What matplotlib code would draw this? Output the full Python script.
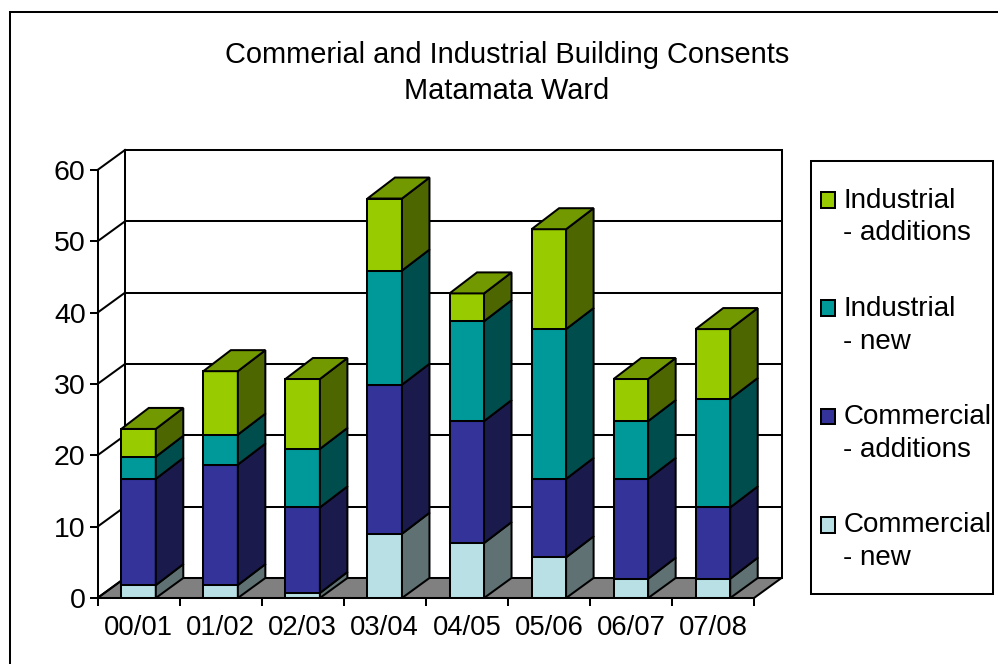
import numpy as np
import matplotlib
matplotlib.use("Agg")
import matplotlib.pyplot as plt
from matplotlib.lines import Line2D
from matplotlib.patches import Patch, Polygon, Rectangle

plt.rcParams["font.family"] = ["Liberation Sans", "DejaVu Sans"]

years = ["00/01", "01/02", "02/03", "03/04", "04/05", "05/06", "06/07", "07/08"]
commercial_new = [1.8, 1.8, 0.7, 9.0, 7.7, 5.7, 2.7, 2.7]
commercial_additions = [14.9, 16.9, 12.0, 20.9, 17.1, 11.0, 14.0, 10.0]
industrial_new = [3.1, 4.2, 8.2, 16.0, 14.0, 21.0, 8.1, 15.2]
industrial_additions = [3.9, 8.9, 9.8, 10.1, 3.9, 14.0, 5.9, 9.8]

series = [commercial_new, commercial_additions, industrial_new, industrial_additions]
labels = ["Commercial\n- new", "Commercial\n- additions", "Industrial\n- new", "Industrial\n- additions"]
front_colors = ["#B9E1E5", "#333399", "#009999", "#99CC00"]
side_colors = ["#5F7173", "#1A1A4D", "#004D4D", "#4D6600"]
top_colors = ["#8AA9AC", "#26267A", "#007373", "#739900"]

W, H = 998, 664
FS = 19.7
LW = 1.45
INK = "#000000"

fig = plt.figure(figsize=(W / 100, H / 100), dpi=100, facecolor="white")
ax = fig.add_axes([97.5 / W, (H - 598) / H, 656.5 / W, 428 / H], facecolor="none")
ax.set_xlim(0, 8)
ax.set_ylim(0, 60)

# Oblique depth of the chart box, in data units
per_x = 656.5 / 8
per_y = 428 / 60
dx = 27.5 / per_x
dy = 20 / per_y
bar_w = 34.5 / per_x
bar_rise = 1 / per_y


def back(v):
    """Height of a column edge where it meets the rear plane."""
    return v + dy + (bar_rise if v > 0 else 0)


# Floor, walls and gridlines of the box
ax.add_patch(Polygon([(0, 0), (8, 0), (8 + dx, dy), (dx, dy)], closed=True, fc="#808080",
                     ec=INK, lw=LW, clip_on=False, zorder=1))
for v in range(0, 70, 10):
    ax.plot([dx, 8 + dx], [v + dy, v + dy], color=INK, lw=LW, clip_on=False, zorder=1, solid_capstyle="projecting")
    ax.plot([0, dx], [v, v + dy], color=INK, lw=LW, clip_on=False, zorder=1)
ax.plot([dx, dx], [dy, 60 + dy], color=INK, lw=LW, clip_on=False, zorder=1)
ax.plot([8 + dx, 8 + dx], [dy, 60 + dy], color=INK, lw=LW, clip_on=False, zorder=1)

# Stacked columns: front faces as bars, then side and top faces from the same values
positions = np.arange(len(years)) + 0.5
bottoms = np.zeros(len(years))
for k, values in enumerate(series):
    values = np.array(values, dtype=float)
    ax.bar(positions, values, width=bar_w, bottom=bottoms, color=front_colors[k],
           edgecolor=INK, linewidth=LW, zorder=3)
    tops = bottoms + values
    for p, b, t in zip(positions, bottoms, tops):
        r = p + bar_w / 2
        l = p - bar_w / 2
        ax.add_patch(Polygon([(r, b), (r + dx, back(b)), (r + dx, back(t)), (r, t)], closed=True,
                             fc=side_colors[k], ec=INK, lw=LW, clip_on=False, zorder=3))
        if k == len(series) - 1:
            ax.add_patch(Polygon([(l, t), (r, t), (r + dx, back(t)), (l + dx, back(t))], closed=True,
                                 fc=top_colors[k], ec=INK, lw=LW, clip_on=False, zorder=3))
    bottoms = tops

# Axis furniture
for name in ("top", "right"):
    ax.spines[name].set_visible(False)
for name in ("left", "bottom"):
    ax.spines[name].set_linewidth(LW)
    ax.spines[name].set_zorder(4)
ax.set_yticks(range(0, 70, 10))
ax.set_xticks(range(0, 9))
ax.set_xticklabels([])
ax.set_xticks(positions, minor=True)
ax.set_xticklabels(years, minor=True)
ax.tick_params(axis="x", which="minor", length=0, labelsize=FS, pad=12.5)
ax.tick_params(axis="x", which="major", length=6, width=LW)
ax.tick_params(axis="y", length=6, width=LW, labelsize=20.5, pad=2.5)

fig.suptitle("Commerial and Industrial Building Consents\nMatamata Ward", x=507 / W, y=1 - 73 / H,
             va="center", ha="center", fontsize=20.9, linespacing=1.4)

# Outer chart frame, open at the right and bottom
fig.add_artist(Line2D([9.5 / W, 9.5 / W], [0, 1 - 11.5 / H], color=INK, lw=LW))
fig.add_artist(Line2D([9.5 / W, 1], [1 - 11.5 / H, 1 - 11.5 / H], color=INK, lw=LW))

# Legend box and entries
fig.add_artist(Rectangle((811 / W, 1 - 594 / H), 182 / W, 433 / H, transform=fig.transFigure,
                         fc="white", ec=INK, lw=LW))
handles = [Patch(facecolor=c, edgecolor=INK, linewidth=LW) for c in front_colors[::-1]]
leg = fig.legend(handles, labels[::-1], loc="upper left", bbox_to_anchor=(821 / W, 1 - 188 / H),
                 bbox_transform=fig.transFigure, frameon=False, fontsize=20, borderaxespad=0, borderpad=0,
                 handlelength=0.5, handleheight=0.5, handletextpad=0.3, labelspacing=1.79)
for t in leg.get_texts():
    t.set_linespacing(1.32)
for h in leg.legend_handles:
    h.set_y(h.get_y() + 12.3)

fig.savefig("out.png", dpi=100)
